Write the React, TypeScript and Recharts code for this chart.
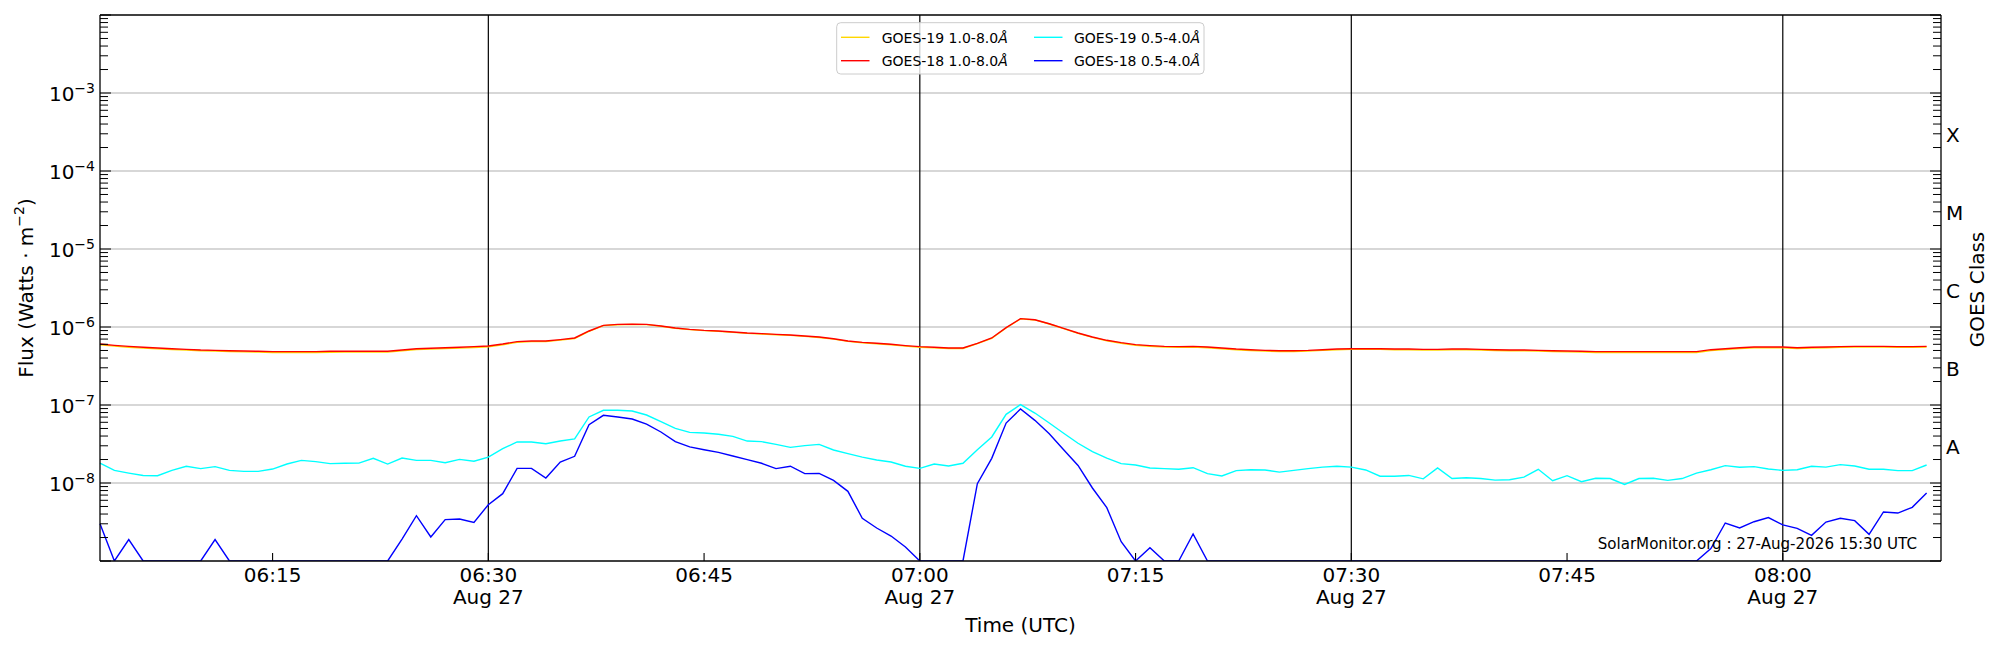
import React from 'react'
import { ComposedChart, Line, XAxis, YAxis, ReferenceLine } from 'recharts'

// GOES XRS 1-minute fluxes, 06:03 - 08:10 UTC, in nW m^-2 (1e-9 W m^-2)
const startMinute = 363 // 06:03 UTC

const goes19Long = [
  590, 568, 551, 536, 525, 515, 505, 495, 490, 485, 480, 476, 472, 471, 471, 472, 475, 476, 476, 476, 477, 494, 514, 520, 530, 536, 546,
  557, 592, 636, 650, 651, 678, 712, 880, 1040, 1070, 1082, 1072, 1022, 963, 925, 898, 880, 853, 828, 812, 796, 780, 758, 735, 700,
  654, 628, 609, 591, 568, 551, 540, 530, 531, 612, 716, 972, 1270, 1232, 1092, 951, 828, 735, 666, 620, 584, 566, 554, 548, 553, 542,
  526, 510, 500, 490, 485, 486, 491, 501, 511, 516, 516, 516, 511, 511, 506, 506, 510, 510, 505, 500, 495, 495, 490, 485, 480, 476,
  471, 471, 471, 471, 471, 471, 471, 472, 500, 515, 531, 542, 542, 542, 531, 537, 542, 548, 553, 553, 553, 548, 548, 553,
]
const goes18Long = [
  605, 582, 565, 549, 538, 527, 517, 507, 502, 497, 492, 488, 483, 483, 483, 483, 488, 488, 488, 488, 488, 507, 527, 533, 543, 549, 560,
  571, 605, 649, 662, 662, 689, 723, 889, 1050, 1080, 1090, 1080, 1030, 970, 933, 906, 889, 863, 838, 822, 805, 789, 767, 744, 708,
  662, 636, 618, 600, 577, 560, 549, 538, 538, 618, 723, 980, 1280, 1240, 1100, 960, 838, 744, 675, 630, 594, 577, 565, 560, 565, 554,
  538, 522, 512, 502, 497, 497, 502, 512, 522, 527, 527, 527, 522, 522, 517, 517, 522, 522, 517, 512, 507, 507, 502, 497, 492, 488,
  483, 483, 483, 483, 483, 483, 483, 483, 512, 527, 543, 554, 554, 554, 543, 549, 554, 560, 565, 565, 565, 560, 560, 565,
]
const goes19Short = [
  18.0, 14.5, 13.4, 12.5, 12.4, 14.5, 16.4, 15.3, 16.2, 14.5, 14.1, 14.1, 15.1, 17.5, 19.5, 18.8, 17.7, 17.9, 18.0, 20.7, 17.5, 20.9, 19.5, 19.5, 18.2, 20.1, 19.0,
  21.5, 27.5, 33.6, 33.6, 31.9, 34.5, 36.7, 70.2, 85.5, 85.5, 83.8, 74.4, 61.1, 50.2, 44.6, 43.8, 42.1, 39.6, 34.5, 33.9, 31.3, 28.6, 30.1, 31.3, 26.5,
  23.8, 21.5, 19.7, 18.6, 16.4, 15.4, 17.5, 16.5, 17.9, 26.7, 38.9, 75.9, 101, 78.9, 58.7, 43.4, 32.3, 25.2, 20.9, 17.7, 17.0, 15.6, 15.3, 15.0, 15.7, 13.2,
  12.3, 14.4, 14.8, 14.7, 13.8, 14.5, 15.3, 16.0, 16.4, 16.0, 14.7, 12.2, 12.2, 12.5, 11.3, 15.6, 11.4, 11.7, 11.4, 10.9, 11.0, 11.9, 15.0, 10.7, 12.4, 10.4,
  11.5, 11.4, 9.6, 11.4, 11.5, 10.8, 11.4, 13.4, 14.8, 16.7, 15.9, 16.2, 15.1, 14.5, 14.8, 16.4, 16.0, 17.2, 16.5, 15.0, 15.0, 14.4, 14.4, 17.0,
]
const goes18Short = [
  3.01, 1, 1.88, 1, 1, 1, 1, 1, 1.88, 1, 1, 1, 1, 1, 1, 1, 1, 1, 1, 1, 1, 1.91, 3.81, 2.03, 3.39, 3.46, 3.13,
  5.27, 7.30, 15.4, 15.4, 11.6, 18.6, 22.0, 56.0, 73.8, 70.2, 66.2, 57.0, 45.1, 33.9, 29.0, 26.7, 24.7, 22.2, 19.9, 17.9, 15.3, 16.4, 13.2, 13.3, 10.8,
  7.82, 3.53, 2.65, 2.09, 1.51, 1, 1, 1, 1, 9.8, 20.7, 58.7, 88.9, 63.6, 42.9, 26.7, 16.8, 8.63, 4.83, 1.77, 1, 1.48, 1, 1, 2.22, 1,
  1, 1, 1, 1, 1, 1, 1, 1, 1, 1, 1, 1, 1, 1, 1, 1, 1, 1, 1, 1, 1, 1, 1, 1, 1, 1, 1, 1, 1, 1, 1, 1, 1, 1,
  1.44, 3.07, 2.65, 3.19, 3.60, 2.90, 2.62, 2.13, 3.16, 3.53, 3.29, 2.20, 4.25, 4.12, 4.88, 7.45,
]

const seriesKeys = ['g19l', 'g18l', 'g19s', 'g18s']
const seriesNames = ['GOES-19 1.0-8.0', 'GOES-18 1.0-8.0', 'GOES-19 0.5-4.0', 'GOES-18 0.5-4.0']
const seriesColors = ['#ffd700', '#ff0000', '#00ffff', '#0000ff']

const timeTicks = [375, 390, 405, 420, 435, 450, 465, 480]
const dateTicks = [390, 420, 450, 480]
const dateLabel = 'Aug 27'
const decadeTicks = [1e-8, 1e-7, 1e-6, 1e-5, 1e-4, 1e-3]
const classLabels = ['A', 'B', 'C', 'M', 'X']
const classLevels = [3.16e-8, 3.16e-7, 3.16e-6, 3.16e-5, 3.16e-4]
const stamp = 'SolarMonitor.org : 27-Aug-2026 15:30 UTC'

const rows = goes18Long.map((_, i) => ({
  t: startMinute + i,
  g19l: goes19Long[i] * 1e-9,
  g18l: goes18Long[i] * 1e-9,
  g19s: goes19Short[i] * 1e-9,
  g18s: goes18Short[i] * 1e-9,
}))

// log axis ticks: decades plus 2..9 minors
const fluxTicks: number[] = []
for (let e = -9; e < -2; e++) for (let m = 1; m < 10; m++) fluxTicks.push(m * 10 ** e)
fluxTicks.push(1e-2)

const isDecade = (v: number) => Math.abs(Math.log10(v) - Math.round(Math.log10(v))) < 1e-9
const hhmm = (m: number) => `${String(Math.floor(m / 60)).padStart(2, '0')}:${String(m % 60).padStart(2, '0')}`

const LeftTick = (p: any) => {
  const v = p.payload.value
  const major = isDecade(v)
  const showLabel = major && decadeTicks.some(d => Math.abs(d - v) / d < 1e-6)
  return (
    <g>
      <line x1={p.x} x2={p.x + (major ? 11 : 8)} y1={p.y} y2={p.y} stroke="#000" strokeWidth={1} />
      {showLabel && (
        <text x={p.x - 5} y={p.y + 8.4} textAnchor="end" fontSize={20} fill="#000">
          10<tspan dy={-8.7} fontSize={14}>{'\u2212' + -Math.round(Math.log10(v))}</tspan>
        </text>
      )}
    </g>
  )
}

const RightTick = (p: any) => {
  const v = p.payload.value
  const ci = classLevels.indexOf(v)
  if (ci >= 0) {
    return (
      <text x={p.x + 5} y={p.y + 9.5} textAnchor="start" fontSize={20} fill="#000">{classLabels[ci]}</text>
    )
  }
  return <line x1={p.x} x2={p.x - (isDecade(v) ? 11 : 8)} y1={p.y} y2={p.y} stroke="#000" strokeWidth={1} />
}

const TimeTick = (p: any) => {
  const m = p.payload.value
  return (
    <g>
      <line x1={p.x} x2={p.x} y1={p.y} y2={p.y - 8} stroke="#000" strokeWidth={1.1} />
      <text x={p.x} y={p.y + 21} textAnchor="middle" fontSize={20} fill="#000">{hhmm(m)}</text>
      {dateTicks.includes(m) && (
        <text x={p.x} y={p.y + 43} textAnchor="middle" fontSize={20} fill="#000">{dateLabel}</text>
      )}
    </g>
  )
}

export default function App() {
  return (
    <div style={{ position: 'relative', width: 2000, height: 650, fontFamily: '"DejaVu Sans", sans-serif', background: '#fff' }}>
      <style>{'body{margin:0}'}</style>
      <ComposedChart width={2000} height={650} data={rows} margin={{ top: 15, right: 0, bottom: 0, left: 0 }}>
        <XAxis dataKey="t" type="number" domain={[363, 491]} ticks={timeTicks} interval={0}
          tick={(p: any) => <TimeTick {...p} />} tickLine={false} tickSize={0} tickMargin={0}
          axisLine={{ stroke: '#000', strokeWidth: 1.3 }} height={89} />
        <YAxis yAxisId="flux" scale="log" type="number" domain={[1e-9, 1e-2]} allowDataOverflow
          ticks={fluxTicks} interval={0} tick={(p: any) => <LeftTick {...p} />} tickLine={false}
          tickSize={0} tickMargin={0} axisLine={{ stroke: '#000', strokeWidth: 1.3 }} width={100} />
        <YAxis yAxisId="class" orientation="right" scale="log" type="number" domain={[1e-9, 1e-2]} allowDataOverflow
          ticks={[...fluxTicks, ...classLevels]} interval={0} tick={(p: any) => <RightTick {...p} />} tickLine={false}
          tickSize={0} tickMargin={0} axisLine={{ stroke: '#000', strokeWidth: 1.3 }} width={59} />
        {decadeTicks.map(d => (
          <ReferenceLine key={d} yAxisId="flux" y={d} stroke="#b0b0b0" strokeWidth={1.1} />
        ))}
        <ReferenceLine yAxisId="flux" y={1e-2} stroke="#000" strokeWidth={1.3} />
        {dateTicks.map(m => (
          <ReferenceLine key={m} yAxisId="flux" x={m} stroke="#000" strokeWidth={1.2} />
        ))}
        {seriesKeys.map((k, i) => (
          <Line key={k} yAxisId="flux" dataKey={k} type="linear" stroke={seriesColors[i]} strokeWidth={1.4}
            dot={false} activeDot={false} isAnimationActive={false} />
        ))}
      </ComposedChart>
      <svg width={2000} height={650} style={{ position: 'absolute', left: 0, top: 0, pointerEvents: 'none' }}>
        <text transform="translate(32.7,288) rotate(-90)" textAnchor="middle" fontSize={20} fill="#000">
          Flux (Watts · m<tspan dy={-8.7} fontSize={14}>{'\u22122'}</tspan><tspan dy={8.7}>)</tspan>
        </text>
        <text transform="translate(1984,289.5) rotate(-90)" textAnchor="middle" fontSize={20} fill="#000">GOES Class</text>
        <text x={1020.5} y={632} textAnchor="middle" fontSize={20} fill="#000">Time (UTC)</text>
        <text x={1917} y={549} textAnchor="end" fontSize={15.1} fill="#000">{stamp}</text>
        <rect x={836.7} y={22.7} width={367.3} height={51.3} rx={4} fill="#fff" fillOpacity={0.8} stroke="#cccccc" strokeWidth={1} />
        {seriesNames.map((name, i) => {
          const col = Math.floor(i / 2)
          const row = i % 2
          const lx = col === 0 ? 841 : 1034
          const tx = col === 0 ? 881.7 : 1074
          const ly = row === 0 ? 37.3 : 60.7
          return (
            <g key={name}>
              <line x1={lx} x2={lx + 28.5} y1={ly} y2={ly} stroke={seriesColors[i]} strokeWidth={1.4} />
              <text x={tx} y={ly + 5.2} fontSize={14} fill="#000">
                {name}<tspan fontStyle="italic">Å</tspan>
              </text>
            </g>
          )
        })}
      </svg>
    </div>
  )
}
